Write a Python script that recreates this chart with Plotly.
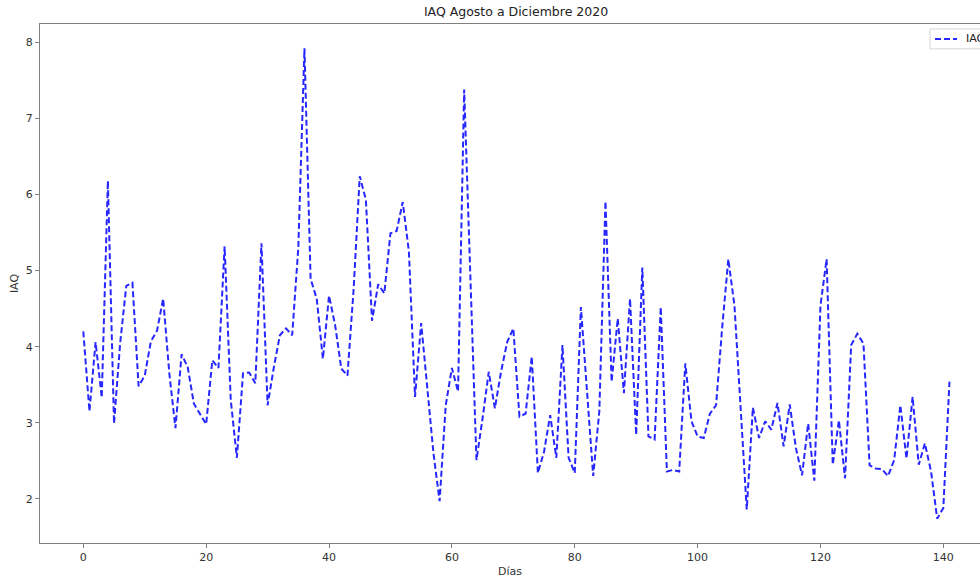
import plotly.graph_objects as go

days = list(range(142))
iaq = [
    4.20, 3.15, 4.06, 3.33, 6.18, 2.99, 4.05, 4.80, 4.84, 3.48,
    3.62, 4.07, 4.21, 4.63, 3.65, 2.93, 3.90, 3.73, 3.25, 3.12,
    2.98, 3.82, 3.72, 5.32, 3.30, 2.54, 3.65, 3.66, 3.52, 5.36,
    3.23, 3.72, 4.15, 4.24, 4.15, 5.30, 7.92, 4.89, 4.63, 3.84,
    4.67, 4.28, 3.71, 3.62, 4.75, 6.24, 5.93, 4.34, 4.82, 4.70,
    5.49, 5.52, 5.90, 5.25, 3.34, 4.31, 3.45, 2.60, 1.97, 3.23,
    3.72, 3.41, 7.38, 4.95, 2.51, 3.06, 3.67, 3.19, 3.67, 4.06,
    4.24, 3.08, 3.12, 3.87, 2.34, 2.62, 3.10, 2.54, 4.02, 2.54,
    2.34, 4.52, 3.45, 2.30, 3.15, 5.91, 3.54, 4.37, 3.39, 4.63,
    2.84, 5.04, 2.82, 2.78, 4.52, 2.36, 2.38, 2.36, 3.78, 3.02,
    2.82, 2.80, 3.12, 3.23, 4.25, 5.15, 4.54, 3.20, 1.86, 3.20,
    2.80, 3.02, 2.91, 3.26, 2.69, 3.24, 2.67, 2.31, 2.99, 2.24,
    4.54, 5.15, 2.45, 3.03, 2.27, 4.02, 4.17, 4.04, 2.44, 2.40,
    2.39, 2.30, 2.51, 3.23, 2.53, 3.34, 2.45, 2.73, 2.36, 1.74,
    1.88, 3.54,
]
series_name = "IAQ"
title_text = "IAQ Agosto a Diciembre 2020"
x_label = "Días"
y_label = "IAQ"
x_ticks = [0, 20, 40, 60, 80, 100, 120, 140]
y_ticks = [2, 3, 4, 5, 6, 7, 8]

FONT = "DejaVu Sans"
SPINE = "#808080"
TXT = "#333333"
LINE_COLOR = "rgba(0,0,255,0.85)"
DASH = "6px,3px"

W, H = 980, 578
ML, MR, MT, MB = 40, 0, 24, 32
PW, PH = W - ML - MR, H - MT - MB


def px(xp):
    return (xp - ML) / PW


def py(yp):
    return 1 - (yp - MT) / PH


fig = go.Figure()
fig.add_trace(go.Scatter(
    x=days, y=iaq, mode="lines", name=series_name, showlegend=False,
    line=dict(color=LINE_COLOR, width=2, dash=DASH),
))

# legend box (upper right, partly cut by the window edge as in the original)
fig.add_shape(type="rect", xref="paper", yref="paper",
              x0=px(930), x1=px(1000), y0=py(49), y1=py(29),
              line=dict(color="#d6d6d6", width=1), fillcolor="white", layer="above")
fig.add_shape(type="line", xref="paper", yref="paper",
              x0=px(935), x1=px(957), y0=py(39), y1=py(39),
              line=dict(color=LINE_COLOR, width=2, dash=DASH), layer="above")
fig.add_annotation(xref="paper", yref="paper", x=px(964), y=py(39),
                   xanchor="left", yanchor="middle", showarrow=False,
                   text=series_name, font=dict(family=FONT, size=11, color="#222222"))

fig.update_layout(
    width=W, height=H,
    margin=dict(l=ML, r=MR, t=MT, b=MB),
    paper_bgcolor="white", plot_bgcolor="white",
    font=dict(family=FONT, size=11, color=TXT),
    title=dict(text=title_text, x=(516 / W), xanchor="center",
               y=1 - 12 / H, yanchor="middle",
               font=dict(family=FONT, size=12.5, color="#222222")),
    showlegend=False,
)

fig.update_xaxes(
    range=[-7.05, 145.97], tickvals=x_ticks, ticktext=[str(t) for t in x_ticks],
    showgrid=False, zeroline=False,
    showline=True, linecolor=SPINE, linewidth=1, mirror=True,
    ticks="outside", ticklen=4, tickcolor=SPINE, tickwidth=1,
    tickfont=dict(family=FONT, size=11, color=TXT),
    title=dict(text=x_label, standoff=6, font=dict(family=FONT, size=11, color=TXT)),
)
fig.update_yaxes(
    range=[1.42, 8.24], tickvals=y_ticks, ticktext=[str(t) for t in y_ticks],
    showgrid=False, zeroline=False,
    showline=True, linecolor=SPINE, linewidth=1, mirror=False,
    ticks="outside", ticklen=4, tickcolor=SPINE, tickwidth=1,
    tickfont=dict(family=FONT, size=11, color=TXT),
    title=dict(text=y_label, standoff=4, font=dict(family=FONT, size=11, color=TXT)),
)

fig.write_html("out.html")
